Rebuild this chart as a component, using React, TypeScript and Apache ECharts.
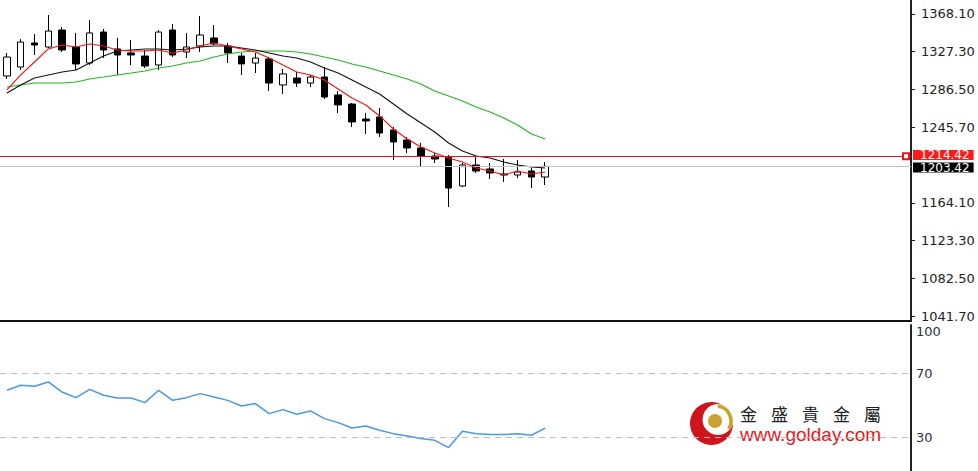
import React, { useEffect, useRef } from 'react';
import * as echarts from 'echarts';

// ---- data ----
const categories = [
  'C1','C2','C3','C4','C5','C6','C7','C8','C9','C10',
  'C11','C12','C13','C14','C15','C16','C17','C18','C19','C20',
  'C21','C22','C23','C24','C25','C26','C27','C28','C29','C30',
  'C31','C32','C33','C34','C35','C36','C37','C38','C39','C40',
];

// [open, close, low, high]
const candles = [
  [1301.1, 1321.6, 1297.9, 1326.0],
  [1310.8, 1337.8, 1307.6, 1341.1],
  [1336.8, 1334.6, 1323.8, 1346.5],
  [1332.4, 1349.7, 1331.4, 1367.0],
  [1350.8, 1329.2, 1327.0, 1354.1],
  [1332.4, 1314.1, 1307.6, 1347.6],
  [1315.1, 1347.6, 1313.0, 1361.6],
  [1348.6, 1329.2, 1320.5, 1351.9],
  [1330.3, 1323.8, 1302.2, 1342.2],
  [1326.0, 1323.8, 1313.0, 1340.0],
  [1322.7, 1311.9, 1309.7, 1329.2],
  [1313.0, 1348.6, 1307.6, 1350.8],
  [1350.8, 1323.8, 1321.6, 1357.3],
  [1327.0, 1332.4, 1320.5, 1347.6],
  [1333.5, 1345.4, 1327.0, 1365.9],
  [1342.2, 1335.7, 1334.6, 1356.2],
  [1333.5, 1326.0, 1315.1, 1336.8],
  [1322.7, 1314.1, 1302.2, 1326.0],
  [1315.1, 1320.5, 1304.3, 1326.0],
  [1319.5, 1293.5, 1284.9, 1321.6],
  [1291.4, 1303.3, 1281.6, 1308.7],
  [1298.9, 1293.5, 1289.2, 1305.4],
  [1293.5, 1300.0, 1289.2, 1302.2],
  [1300.0, 1278.4, 1276.2, 1310.8],
  [1280.6, 1269.8, 1261.1, 1284.9],
  [1270.8, 1251.4, 1246.0, 1271.9],
  [1254.6, 1252.5, 1238.4, 1261.1],
  [1256.8, 1239.5, 1235.2, 1266.5],
  [1242.7, 1229.8, 1210.3, 1246.0],
  [1231.9, 1223.3, 1217.9, 1235.2],
  [1223.3, 1214.6, 1203.8, 1228.7],
  [1214.6, 1211.4, 1207.1, 1217.9],
  [1213.5, 1180.0, 1159.5, 1215.7],
  [1182.2, 1204.9, 1181.1, 1207.1],
  [1204.9, 1198.4, 1196.3, 1213.5],
  [1200.6, 1196.3, 1189.8, 1207.1],
  [1195.2, 1194.1, 1186.5, 1211.4],
  [1194.1, 1197.3, 1190.9, 1210.3],
  [1198.4, 1191.9, 1180.0, 1201.7],
  [1191.9, 1203.42, 1183.3, 1208.1],
];

const maFast = [
  1286.0, 1302.2, 1316.2, 1330.3, 1334.6, 1332.4, 1335.7, 1333.5, 1329.2, 1328.1,
  1328.1, 1329.2, 1326.0, 1329.2, 1333.5, 1336.8, 1333.5, 1330.3, 1327.0, 1320.5,
  1313.0, 1305.4, 1302.2, 1296.8, 1287.0, 1277.3, 1269.8, 1257.9, 1243.8, 1233.0,
  1224.4, 1217.9, 1212.5, 1208.1, 1201.7, 1198.4, 1194.1, 1198.4, 1195.2, 1197.3,
];

const maMid = [
  1282.7, 1291.4, 1298.9, 1302.2, 1305.4, 1307.6, 1315.1, 1322.7, 1328.1, 1329.2,
  1330.3, 1330.3, 1329.2, 1330.3, 1332.4, 1333.5, 1333.5, 1331.4, 1329.2, 1326.0,
  1322.7, 1320.5, 1316.2, 1309.7, 1304.3, 1296.8, 1289.2, 1281.6, 1270.8, 1260.0,
  1250.3, 1240.6, 1228.7, 1220.0, 1214.6, 1212.5, 1208.1, 1204.9, 1202.7, 1201.7,
];

const maSlow = [
  1289.2, 1291.4, 1293.5, 1293.5, 1293.5, 1294.6, 1297.9, 1300.0, 1302.2, 1304.3,
  1306.5, 1309.7, 1311.9, 1315.1, 1317.3, 1321.6, 1324.9, 1327.0, 1328.1, 1328.1,
  1328.1, 1327.0, 1324.9, 1321.6, 1318.4, 1314.1, 1310.8, 1306.5, 1302.2, 1297.9,
  1292.4, 1284.9, 1279.5, 1274.1, 1267.6, 1262.2, 1255.7, 1248.1, 1238.4, 1233.0,
];

const rsi = [
  59.2, 62.3, 61.7, 64.4, 58.1, 54.6, 59.8, 56.1, 54.4, 54.4,
  51.5, 59.2, 52.9, 54.6, 57.1, 55.0, 52.9, 49.4, 50.9, 44.6,
  47.1, 44.2, 46.3, 41.5, 39.0, 35.6, 36.9, 34.2, 32.1, 30.6,
  29.0, 27.9, 23.4, 33.6, 32.1, 31.5, 31.5, 32.1, 31.1, 35.6,
];

const priceTicks = [1041.7, 1082.5, 1123.3, 1164.1, 1245.7, 1286.5, 1327.3, 1368.1];
const rsiTicks = [100, 70, 30];
const rsiLevels = [70, 30];
const resistanceLevel = 1214.42;
const lastPrice = 1203.42;
const brandChars = ['金', '盛', '貴', '金', '屬'];
const brandUrl = 'www.golday.com';

const AXIS_FONT = 'DejaVu Sans';

export default function App() {
  const ref = useRef<HTMLDivElement>(null);

  useEffect(() => {
    if (!ref.current) return;
    const chart = echarts.init(ref.current, null, { renderer: 'svg' });

    const markLabel = (bg: string, dy: number) => ({
      show: true,
      position: 'end',
      distance: 2,
      offset: [0, dy],
      formatter: (p: any) => Number(p.value).toFixed(2),
      color: '#fff',
      backgroundColor: bg,
      padding: [0, 4, 0, 7],
      fontSize: 12,
      lineHeight: 10,
      fontFamily: AXIS_FONT,
    });

    const option: any = {
      animation: false,
      backgroundColor: '#fff',
      grid: [
        { left: 0, right: 67, top: 0, height: 321 },
        { left: 0, right: 67, top: 325, height: 146 },
      ],
      xAxis: [
        { type: 'category', data: categories, gridIndex: 0, max: 65, show: false },
        { type: 'category', data: categories, gridIndex: 1, max: 65, show: false },
      ],
      yAxis: [
        {
          type: 'value',
          gridIndex: 0,
          position: 'right',
          min: 1036.3,
          max: 1383.23,
          splitLine: { show: false },
          axisLine: { show: true, lineStyle: { color: '#222', width: 2 } },
          axisTick: { show: true, customValues: priceTicks, length: 4, lineStyle: { color: '#222' } },
          axisLabel: {
            customValues: priceTicks,
            formatter: (v: number) => v.toFixed(2),
            margin: 10,
            color: '#222',
            fontFamily: AXIS_FONT,
            fontSize: 13,
          },
        },
        {
          type: 'value',
          gridIndex: 1,
          position: 'right',
          min: 8.75,
          max: 100,
          splitLine: { show: false },
          axisLine: { show: true, lineStyle: { color: '#222', width: 2 } },
          axisTick: { show: false },
          axisLabel: {
            customValues: rsiTicks,
            formatter: (v: number) => (v === 100 ? '{t|100}' : String(v)),
            margin: 5,
            color: '#2a3440',
            fontFamily: AXIS_FONT,
            fontSize: 13,
            rich: {
              t: { padding: [13, 0, 0, 0], fontSize: 13, fontFamily: AXIS_FONT, color: '#2a3440' },
            },
          },
        },
      ],
      series: [
        {
          type: 'candlestick',
          xAxisIndex: 0,
          yAxisIndex: 0,
          data: candles,
          barWidth: 7,
          itemStyle: {
            color: '#fff',
            color0: '#000',
            borderColor: '#000',
            borderColor0: '#000',
            borderWidth: 1,
          },
          markLine: {
            silent: true,
            symbol: ['none', 'emptyRect'],
            symbolSize: 6,
            symbolOffset: [0, [0, 5]],
            data: [
              {
                yAxis: resistanceLevel,
                lineStyle: { color: '#e8141b', width: 1, type: 'solid' },
                label: markLabel('#ff1a1a', -1.2),
              },
            ],
          },
          z: 3,
        },
        {
          type: 'line',
          xAxisIndex: 0,
          yAxisIndex: 0,
          data: maSlow,
          symbol: 'none',
          lineStyle: { color: '#1fb81f', width: 1.1 },
          z: 4,
        },
        {
          type: 'line',
          xAxisIndex: 0,
          yAxisIndex: 0,
          data: maMid,
          symbol: 'none',
          lineStyle: { color: '#111', width: 1.1 },
          markLine: {
            silent: true,
            symbol: ['none', 'none'],
            data: [
              {
                yAxis: lastPrice,
                lineStyle: { color: '#c4c4c4', width: 1, type: 'solid' },
                label: markLabel('#000', 1.2),
              },
            ],
          },
          z: 4,
        },
        {
          type: 'line',
          xAxisIndex: 0,
          yAxisIndex: 0,
          data: maFast,
          symbol: 'none',
          lineStyle: { color: '#f01010', width: 1.1 },
          z: 5,
        },
        {
          type: 'line',
          xAxisIndex: 1,
          yAxisIndex: 1,
          data: rsi,
          symbol: 'none',
          lineStyle: { color: '#4a98e8', width: 1.5 },
          markLine: {
            silent: true,
            symbol: ['none', 'none'],
            label: { show: false },
            lineStyle: { color: '#bdbdbd', width: 1, type: [6, 5] },
            data: rsiLevels.map((v) => ({ yAxis: v })),
          },
        },
      ],
      graphic: [
        { type: 'rect', shape: { x: 0, y: 320, width: 912, height: 2 }, style: { fill: '#111' } },
        // logo mark
        { type: 'circle', shape: { cx: 711.5, cy: 423.5, r: 21.5 }, style: { fill: '#cf141c' } },
        { type: 'circle', shape: { cx: 718, cy: 419.5, r: 15.5 }, style: { fill: '#fff' } },
        {
          type: 'arc',
          shape: { cx: 716, cy: 421, r: 15, startAngle: -1.45, endAngle: 0.55 },
          style: { stroke: '#c9a227', lineWidth: 3.5, fill: 'none' },
        },
        { type: 'circle', shape: { cx: 715, cy: 421, r: 7 }, style: { fill: '#c6a334' } },
        ...brandChars.map((c, i) => ({
          type: 'text',
          x: 740 + i * 31,
          y: 413,
          style: {
            text: c,
            fontSize: 17,
            lineHeight: 17,
            fontFamily: 'Noto Sans CJK TC',
            fill: '#222',
            verticalAlign: 'middle',
            align: 'left',
          },
        })),
        {
          type: 'text',
          x: 740,
          y: 434,
          style: {
            text: brandUrl,
            fontSize: 19,
            lineHeight: 19,
            fontFamily: 'Liberation Sans',
            fill: '#e8141c',
            verticalAlign: 'middle',
            align: 'left',
          },
        },
      ],
    };

    chart.setOption(option);
    return () => chart.dispose();
  }, []);

  return <div ref={ref} style={{ width: 978, height: 471, position: 'absolute', left: 0, top: 0 }} />;
}
